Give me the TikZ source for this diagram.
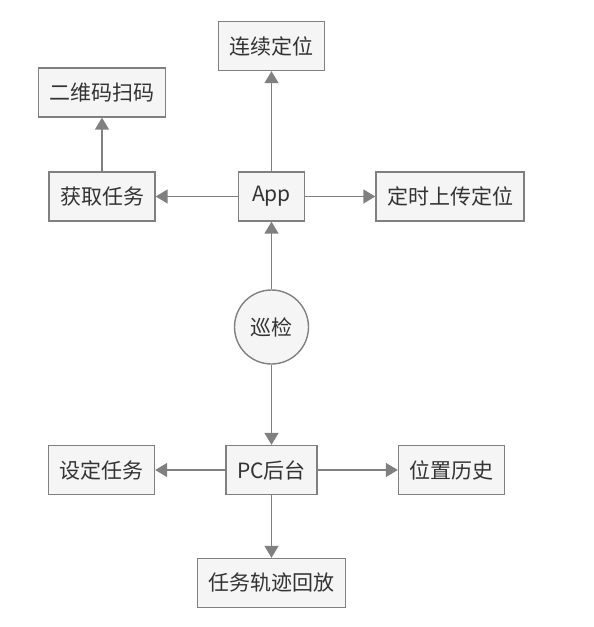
\documentclass[tikz,border=0pt]{standalone}
\usepackage{fontspec}
\setmainfont{Noto Sans CJK SC}
\usepackage{tikz}
\usetikzlibrary{arrows.meta}

\definecolor{edgegray}{HTML}{808080}
\definecolor{boxfill}{HTML}{F5F5F5}
\definecolor{textgray}{HTML}{333333}

\tikzset{
  box/.style={draw=edgegray,fill=boxfill,line width=1.4pt,text=textgray,
    font=\fontsize{21}{24}\selectfont,inner xsep=11pt,minimum height=49pt},
  hub/.style={circle,draw=edgegray,fill=boxfill,line width=1.4pt,text=textgray,
    font=\fontsize{21}{24}\selectfont,minimum size=74pt,inner sep=0pt},
  link/.style={draw=edgegray,line width=1.5pt,-{Triangle[length=12pt,width=14pt]}}
}

\begin{document}
\begin{tikzpicture}[x=1pt,y=-1pt]
\useasboundingbox (0,0) rectangle (594,627);

% app side
\node[box] (lianxu) at (271.5,46) {连续定位};
\node[box] (saoma) at (102,92.5) {二维码扫码};
\node[box] (huoqu) at (102,196.5) {获取任务};
\node[box,minimum width=66pt] (app) at (271.5,196.5) {App};
\node[box] (shangchuan) at (450,196.5) {定时上传定位};

% patrol
\node[hub] (xunjian) at (271.5,327) {巡检};

% pc side
\node[box] (pc) at (271.5,470) {PC后台};
\node[box] (sheding) at (101.5,470) {设定任务};
\node[box] (lishi) at (451.5,470) {位置历史};
\node[box] (huifang) at (271.5,583) {任务轨迹回放};

% connectors
\draw[link] (app) -- (lianxu);
\draw[link] (app) -- (huoqu);
\draw[link] (app) -- (shangchuan);
\draw[link] (huoqu) -- (saoma);
\draw[link] (xunjian) -- (app);
\draw[link] (xunjian) -- (pc);
\draw[link] (pc) -- (sheding);
\draw[link] (pc) -- (lishi);
\draw[link] (pc) -- (huifang);
\end{tikzpicture}
\end{document}
